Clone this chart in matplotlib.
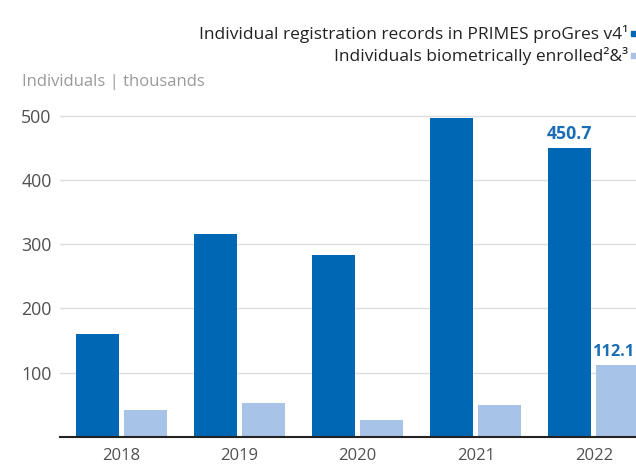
import matplotlib
matplotlib.use("Agg")
import matplotlib.pyplot as plt
from matplotlib.patches import Rectangle
import numpy as np

years = ["2018", "2019", "2020", "2021", "2022"]
registration = [160, 316, 283, 497, 450.7]
biometric = [42, 53, 26, 49, 112.1]
yticks = [100, 200, 300, 400, 500]
legend_labels = ["Individual registration records in PRIMES proGres v4\u00b9",
                 "Individuals biometrically enrolled\u00b2&\u00b3"]

DARK = "#0067B4"
LIGHT = "#A7C3E8"
LABEL = "#1A6DB6"

plt.rcParams['font.family'] = ['Open Sans', 'DejaVu Sans']

W, H = 636, 469
fig = plt.figure(figsize=(W / 100, H / 100), dpi=100)
ax = fig.add_axes([60 / W, (H - 436.7) / H, 576 / W, (436.7 - 95) / H])

x = np.arange(len(years))
bw = 0.364
off = 0.203
ax.bar(x - off, registration, width=bw, color=DARK, zorder=3)
ax.bar(x + off, biometric, width=bw, color=LIGHT, zorder=3)

ax.set_xlim(-0.517, 4.356)
ax.set_ylim(0, 533)
ax.set_yticks(yticks)
ax.set_xticks(x)
ax.set_xticklabels(years)
ax.yaxis.grid(True, color="#dedede", linewidth=1.0, zorder=0)
ax.set_axisbelow(True)
for s in ["top", "right", "left"]:
    ax.spines[s].set_visible(False)
ax.spines["bottom"].set_color("#222222")
ax.spines["bottom"].set_linewidth(1.5)
ax.spines["bottom"].set_zorder(4)
ax.tick_params(axis="y", length=0, pad=6, labelsize=12.8, labelcolor="#505050")
ax.tick_params(axis="x", length=0, pad=8, labelsize=12, labelcolor="#505050")

# data labels for 2022
ax.text(x[-1] - off, registration[-1] + 7, f"{registration[-1]:.1f}", ha="center", va="bottom",
        color=LABEL, fontsize=12.8, fontweight="bold")
ax.text(x[-1] + off - 0.03, biometric[-1] + 7, f"{biometric[-1]:.1f}", ha="center", va="bottom",
        color=LABEL, fontsize=11.8, fontweight="bold", clip_on=False)

# y-axis title
fig.text(22 / W, 1 - 82 / H, "Individuals | thousands", ha="left", va="center",
         color="#9a9a9a", fontsize=12)

# legend
for i, (lab, col) in enumerate(zip(legend_labels, [DARK, LIGHT])):
    yc = 1 - (34 + 22 * i) / H
    fig.text(628 / W, yc, lab, ha="right", va="center", color="#222222", fontsize=12.5)
    fig.patches.append(Rectangle((631 / W, yc - 2.5 / H), 5 / W, 5 / H,
                                 transform=fig.transFigure, color=col, figure=fig))

fig.savefig("out.png", dpi=100)
